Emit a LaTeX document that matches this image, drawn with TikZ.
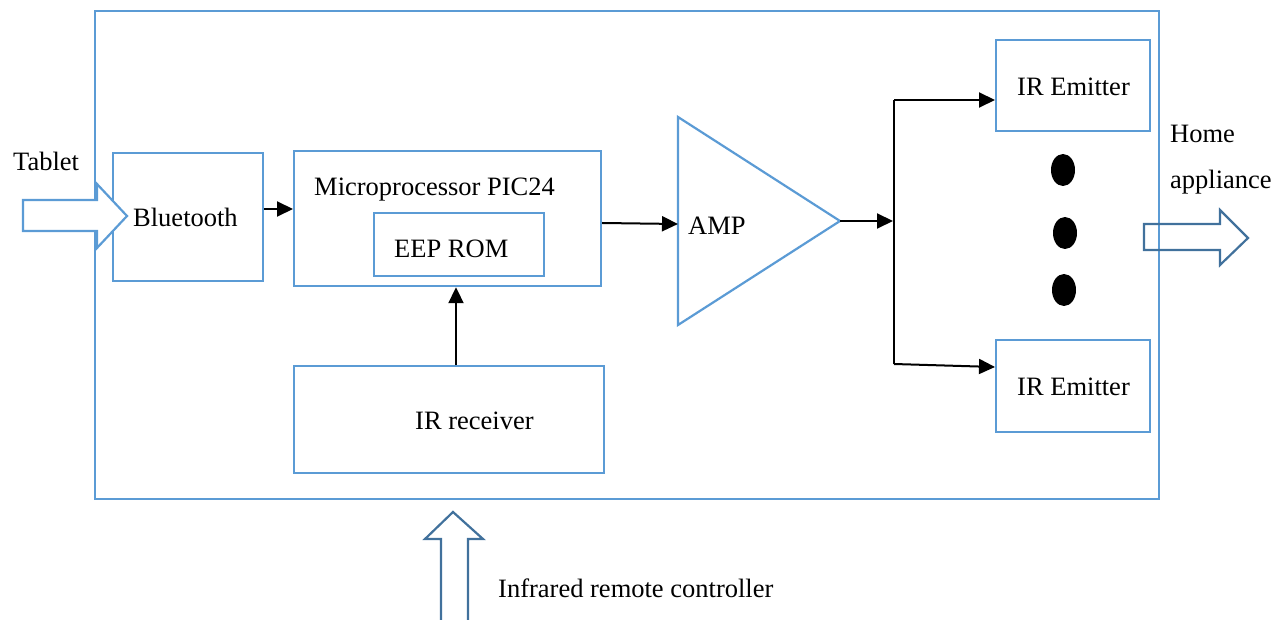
\documentclass[tikz,border=0pt]{standalone}
\usepackage{fontspec}
\setmainfont{Liberation Serif}
\usetikzlibrary{arrows.meta}
\definecolor{boxblue}{HTML}{5B9BD5}
\definecolor{darkblue}{HTML}{41719C}

\begin{document}
\begin{tikzpicture}[x=1pt,y=-1pt,
  box/.style={draw=boxblue, line width=2.2pt, rectangle, inner sep=0pt, anchor=north west},
  lbl/.style={font=\fontsize{26.5}{30}\selectfont, inner sep=0pt, anchor=base west},
  link/.style={draw=black, line width=2pt, -{Triangle[length=16pt,width=15pt]}},
  wire/.style={draw=black, line width=2pt},
  bigarrow/.style={line width=2.2pt, line join=miter}
]
\useasboundingbox (0,0) rectangle (1288,620);

% enclosing unit
\node[box, minimum width=1064, minimum height=488] (unit) at (94,10) {};

% functional blocks
\node[box, minimum width=150, minimum height=128] (bt) at (112,152) {};
\node[box, minimum width=307, minimum height=135] (mp) at (293,150) {};
\node[box, minimum width=170, minimum height=63] (rom) at (373,212) {};
\node[box, minimum width=310, minimum height=107] (rx) at (293,365) {};
\node[box, minimum width=154, minimum height=91] (em1) at (995,39) {};
\node[box, minimum width=154, minimum height=92] (em2) at (995,339) {};

% amplifier triangle
\coordinate (ampin) at (678,224);
\coordinate (ampout) at (840,221);
\draw[draw=boxblue, line width=2.2pt, line join=miter] (678,117) -- (ampout) -- (678,325) -- cycle;

% labels
\node[lbl] (tablet) at (13,171) {Tablet};
\node[lbl] (btl) at (133,227) {Bluetooth};
\node[lbl] (mpl) at (314,196) {Microprocessor PIC24};
\node[lbl] (roml) at (394,258) {EEP ROM};
\node[lbl] (rxl) at (415,429) {IR receiver};
\node[lbl] (ampl) at (688,235) {AMP};
\node[lbl] (em1l) at (1017,96) {IR Emitter};
\node[lbl] (em2l) at (1017,395) {IR Emitter};
\node[lbl] (home) at (1170,143) {Home};
\node[lbl] (appl) at (1170,189) {appliance};
\node[lbl] (irc) at (498,597) {Infrared remote controller};

% signal flow
\coordinate (jn) at (893,221);
\coordinate (bustop) at (894,100);
\coordinate (busbot) at (894,364);
\coordinate (rxtop) at (456,365);
\draw[link] (bt.east |- 0,209) -- (mp.west |- 0,209);
\draw[link] (mp.east |- 0,223) -- (ampin);
\draw[link] (rxtop) -- (rxtop |- mp.south);
\draw[link] (ampout) -- (jn);
\draw[wire] (bustop) -- (busbot);
\draw[link] (bustop) -- (em1.west |- bustop);
\draw[link] (busbot) -- (em2.west |- 0,367);

% dots between the emitters
\fill (1063,170) ellipse [x radius=12, y radius=16];
\fill (1065,233) ellipse [x radius=12, y radius=16];
\fill (1064,290) ellipse [x radius=12, y radius=16];

% incoming / outgoing block arrows
\draw[bigarrow, draw=boxblue, fill=white]
  (23,200) -- (97,200) -- (97,184) -- (127,216) -- (97,248) -- (97,231) -- (23,231) -- cycle;
\draw[bigarrow, draw=darkblue]
  (1144,224) -- (1220,224) -- (1220,210) -- (1248,238) -- (1220,265) -- (1220,250) -- (1144,250) -- cycle;
\draw[bigarrow, draw=darkblue]
  (441,620) -- (441,539) -- (425,539) -- (453,512) -- (483,539) -- (468,539) -- (468,620);
\end{tikzpicture}
\end{document}
